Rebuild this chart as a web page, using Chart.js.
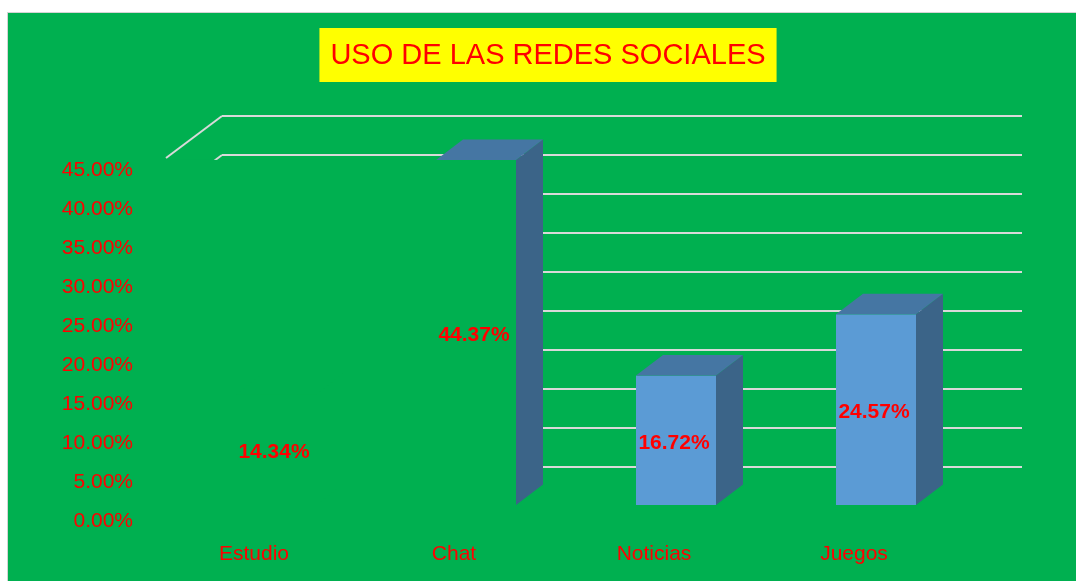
<!DOCTYPE html>
<html>
<head>
<meta charset="utf-8">
<script src="https://cdn.jsdelivr.net/npm/chart.js@4/dist/chart.umd.min.js"></script>
<style>
  html, body { margin: 0; padding: 0; background: #fff; }
  #wrap {
    position: absolute; left: 7px; top: 12px;
    width: 1068px; height: 568px;
    border-left: 1px solid #d4d4d4; border-top: 1px solid #d4d4d4;
    background: #00b050;
  }
</style>
</head>
<body>
<div id="wrap"><canvas id="chart" width="1068" height="568"></canvas></div>
<script>
const categories = ['Estudio', 'Chat', 'Noticias', 'Juegos'];
const usage = [14.34, 44.37, 16.72, 24.57];
const yMax = 50;
const yStep = 5;
const title = 'USO DE LAS REDES SOCIALES';

const GREEN = '#00b050';
const RED = '#ff0000';
// face colours per bar (Estudio blends into the background, Chat has no front)
const frontColors = [GREEN, GREEN, '#5b9bd5', '#5b9bd5'];
const sideColors = [GREEN, '#3b6488', '#3b6488', '#3b6488'];
const topColors = [GREEN, '#4576a3', '#4576a3', '#4576a3'];

const DEPTH_X = 27, DEPTH_Y = 20.5;
const BAR_SHIFT = -46;

const threeD = {
  id: 'threeD',
  beforeDraw(chart) {
    const ctx = chart.ctx;
    ctx.save();
    ctx.font = '29px "Liberation Sans", Arial, sans-serif';
    const w = ctx.measureText(title).width;
    const cx = chart.width / 2 + 6;
    ctx.fillStyle = '#ffff00';
    ctx.fillRect(cx - w / 2 - 11, 15, w + 22, 54);
    ctx.fillStyle = RED;
    ctx.textAlign = 'center';
    ctx.textBaseline = 'middle';
    ctx.fillText(title, cx, 43);
    ctx.restore();
  },
  beforeDatasetsDraw(chart) {
    const ctx = chart.ctx;
    const area = chart.chartArea;
    const y = chart.scales.y;
    ctx.save();
    // left wall edges of the gridlines
    ctx.strokeStyle = '#d9d9d9';
    ctx.lineWidth = 2;
    y.ticks.forEach(t => {
      if (t.value === 0) return;
      const py = y.getPixelForValue(t.value);
      ctx.beginPath();
      ctx.moveTo(area.left, py);
      ctx.lineTo(area.left - 56, py + 42);
      ctx.stroke();
    });
    // green block in front of Estudio/Chat hides the wall
    const chat = chart.getDatasetMeta(0).data[1];
    const right = chat.x + BAR_SHIFT + chat.width / 2;
    ctx.fillStyle = GREEN;
    ctx.fillRect(area.left - 62, chat.y, right - (area.left - 62), area.bottom + 12 - chat.y);
    ctx.restore();
  },
  afterDatasetsDraw(chart) {
    const ctx = chart.ctx;
    const meta = chart.getDatasetMeta(0);
    ctx.save();
    meta.data.forEach((bar, i) => {
      const x0 = bar.x + BAR_SHIFT - bar.width / 2;
      const x1 = x0 + bar.width;
      const top = bar.y, base = bar.base;
      ctx.fillStyle = frontColors[i];
      ctx.fillRect(x0, top, bar.width, base - top);
      ctx.fillStyle = sideColors[i];
      ctx.beginPath();
      ctx.moveTo(x1, top);
      ctx.lineTo(x1 + DEPTH_X, top - DEPTH_Y);
      ctx.lineTo(x1 + DEPTH_X, base - DEPTH_Y);
      ctx.lineTo(x1, base);
      ctx.closePath();
      ctx.fill();
      ctx.fillStyle = topColors[i];
      ctx.beginPath();
      ctx.moveTo(x0, top);
      ctx.lineTo(x0 + DEPTH_X, top - DEPTH_Y);
      ctx.lineTo(x1 + DEPTH_X, top - DEPTH_Y);
      ctx.lineTo(x1, top);
      ctx.closePath();
      ctx.fill();
    });
    ctx.font = 'bold 21px "Liberation Sans", Arial, sans-serif';
    ctx.fillStyle = RED;
    ctx.textAlign = 'center';
    ctx.textBaseline = 'middle';
    meta.data.forEach((bar, i) => {
      ctx.fillText(usage[i].toFixed(2) + '%', bar.x + BAR_SHIFT - 2, (bar.y + bar.base) / 2 + 3);
    });
    ctx.restore();
  }
};

new Chart(document.getElementById('chart'), {
  type: 'bar',
  data: {
    labels: categories,
    datasets: [{
      data: usage,
      backgroundColor: 'rgba(0,0,0,0)',
      barPercentage: 0.4,
      categoryPercentage: 1
    }]
  },
  options: {
    responsive: false,
    maintainAspectRatio: false,
    animation: false,
    layout: { padding: { top: 103, right: 54, left: 0, bottom: 0 } },
    plugins: {
      legend: { display: false },
      tooltip: { enabled: false }
    },
    scales: {
      x: {
        afterFit: s => { s.height = 75; },
        grid: { display: false },
        border: { display: false },
        ticks: {
          color: RED,
          labelOffset: -68,
          padding: 28,
          font: { family: '"Liberation Sans", Arial, sans-serif', size: 21 }
        }
      },
      y: {
        min: 0,
        max: yMax,
        afterFit: s => { s.width = 214; s.paddingTop = 0; s.paddingBottom = 0; },
        border: { display: false },
        grid: {
          drawTicks: false,
          lineWidth: 2,
          color: c => (c.tick && c.tick.value === 0) ? 'rgba(0,0,0,0)' : '#d9d9d9'
        },
        ticks: {
          stepSize: yStep,
          color: RED,
          padding: 89,
          labelOffset: 15,
          font: { family: '"Liberation Sans", Arial, sans-serif', size: 21 },
          callback: v => v === yMax ? '' : v.toFixed(2) + '%'
        }
      }
    }
  },
  plugins: [threeD]
});
</script>
</body>
</html>
